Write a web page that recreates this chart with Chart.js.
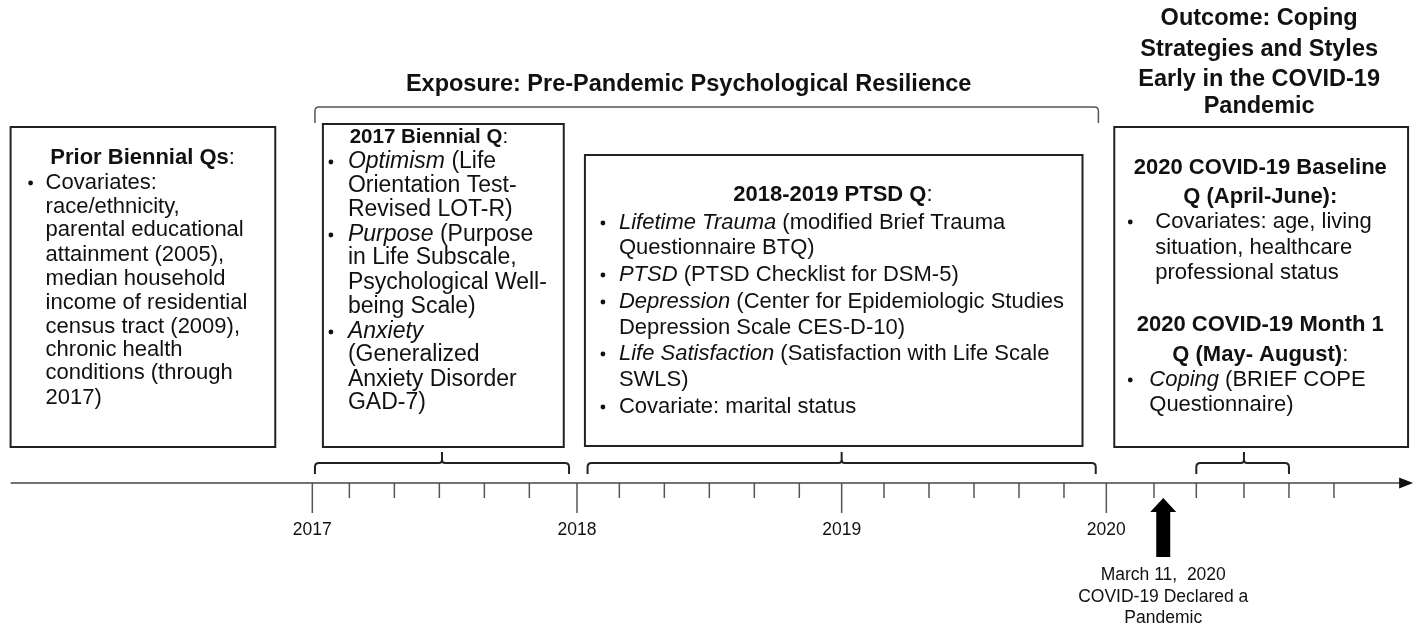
<!DOCTYPE html>
<html>
<head>
<meta charset="utf-8">
<script src="https://cdn.jsdelivr.net/npm/chart.js@4.4.0/dist/chart.umd.min.js"></script>
<style>
  html, body { margin: 0; padding: 0; background: #fff; }
  #wrap { width: 1416px; height: 626px; position: relative; }
</style>
</head>
<body>
<div id="wrap"><canvas id="timeline"></canvas></div>
<script>
// timeline values (decimal years)
const yearTicks = [2017, 2018, 2019, 2020];
const yearLabels = ['2017', '2018', '2019', '2020'];
const minorTicks = [
  2017.14, 2017.31, 2017.48, 2017.65, 2017.82,
  2018.16, 2018.33, 2018.50, 2018.67, 2018.84,
  2019.16, 2019.33, 2019.50, 2019.67, 2019.84,
  2020.18, 2020.34, 2020.52, 2020.69, 2020.86
];
const axisRange = [2015.86, 2021.11];
const pandemicDate = 2020.215;
const pandemicLabel = ['March 11,  2020', 'COVID-19 Declared a', 'Pandemic'];

// brackets under the boxes
const bracketStart = [2017.01, 2018.04, 2020.34];
const bracketMid = [2017.49, 2019.0, 2020.52];
const bracketEnd = [2017.97, 2019.96, 2020.69];
const exposureSpan = [2017.01, 2019.97];

// boxes (time span each one covers on the page)
const boxStart = [2015.86, 2017.04, 2018.03, 2020.03];
const boxEnd = [2016.86, 2017.95, 2019.91, 2021.14];

const exposureTitle = 'Exposure: Pre-Pandemic Psychological Resilience';
const outcomeTitle = ['Outcome: Coping', 'Strategies and Styles', 'Early in the COVID-19', 'Pandemic'];

// h = heading, b = bullet, c = continued line; segments are [text, style]
const box1Lines = [
  ['h', [['Prior Biennial Qs', 'b'], [':', 'r']]],
  ['b', [['Covariates:', 'r']]],
  ['c', [['race/ethnicity,', 'r']]],
  ['c', [['parental educational', 'r']]],
  ['c', [['attainment (2005),', 'r']]],
  ['c', [['median household', 'r']]],
  ['c', [['income of residential', 'r']]],
  ['c', [['census tract (2009),', 'r']]],
  ['c', [['chronic health', 'r']]],
  ['c', [['conditions (through', 'r']]],
  ['c', [['2017)', 'r']]]
];
const box2Lines = [
  ['h', [['2017 Biennial Q', 'b'], [':', 'r']]],
  ['b', [['Optimism', 'i'], [' (Life', 'r']]],
  ['c', [['Orientation Test-', 'r']]],
  ['c', [['Revised LOT-R)', 'r']]],
  ['b', [['Purpose', 'i'], [' (Purpose', 'r']]],
  ['c', [['in Life Subscale,', 'r']]],
  ['c', [['Psychological Well-', 'r']]],
  ['c', [['being Scale)', 'r']]],
  ['b', [['Anxiety', 'i']]],
  ['c', [['(Generalized', 'r']]],
  ['c', [['Anxiety Disorder', 'r']]],
  ['c', [['GAD-7)', 'r']]]
];
const box3Lines = [
  ['h', [['2018-2019 PTSD Q', 'b'], [':', 'r']]],
  ['b', [['Lifetime Trauma', 'i'], [' (modified Brief Trauma', 'r']]],
  ['c', [['Questionnaire BTQ)', 'r']]],
  ['b', [['PTSD', 'i'], [' (PTSD Checklist for DSM-5)', 'r']]],
  ['b', [['Depression', 'i'], [' (Center for Epidemiologic Studies', 'r']]],
  ['c', [['Depression Scale CES-D-10)', 'r']]],
  ['b', [['Life Satisfaction', 'i'], [' (Satisfaction with Life Scale', 'r']]],
  ['c', [['SWLS)', 'r']]],
  ['b', [['Covariate: marital status', 'r']]]
];
const box4Lines = [
  ['h', [['2020 COVID-19 Baseline', 'b']]],
  ['h', [['Q (April-June):', 'b']]],
  ['b', [['Covariates: age, living', 'r']]],
  ['c', [['situation, healthcare', 'r']]],
  ['c', [['professional status', 'r']]],
  ['h', [['2020 COVID-19 Month 1', 'b']]],
  ['h', [['Q (May- August)', 'b'], [':', 'r']]],
  ['b2', [['Coping', 'i'], [' (BRIEF COPE', 'r']]],
  ['c2', [['Questionnaire)', 'r']]]
];
const boxLines = [box1Lines, box2Lines, box3Lines, box4Lines];

// layout (pixels on the vertical scale, offsets from box left edge)
const L = {
  axisY: 483, minorLen: 15, majorLen: 30, yearLabelY: 530,
  bracketY: 463, bracketEndY: 474, bracketPeakY: 452,
  exposureY: 107, exposureEndY: 123, exposureTitleY: 85,
  outcomeTitleY: [19, 50, 80, 107],
  arrowTipY: 498, arrowHeadY: 512, arrowBottomY: 557,
  pandemicLabelY: [575, 597, 618],
  boxTop: [127, 124, 155, 127],
  boxBottom: [447, 447, 446, 447],
  boxText: [
    { head: 132, headSize: 22, size: 22, bullet: 20, text: 35, text2: 35, y: [158, 183, 207, 230, 255, 279, 303, 327, 350, 373, 398] },
    { head: 106, headSize: 20.5, size: 23, bullet: 8, text: 25, text2: 25, y: [137, 162, 186, 210, 235, 258, 283, 307, 332, 355, 380, 403] },
    { head: 248, headSize: 22, size: 22, bullet: 18, text: 34, text2: 34, y: [195, 223, 248, 275, 302, 328, 354, 380, 407] },
    { head: 146, headSize: 22, size: 22, bullet: 16, text: 41, text2: 35, y: [168, 197, 222, 248, 273, 325, 355, 380, 405] }
  ]
};

const FAMILY = '"Liberation Sans", Arial, Helvetica, sans-serif';
function fontFor(style, size) {
  return (style === 'i' ? 'italic ' : '') + (style === 'b' ? 'bold ' : '') + size + 'px ' + FAMILY;
}
function drawSegs(ctx, segs, x, y, size, center) {
  let total = 0;
  segs.forEach(([t, s]) => { ctx.font = fontFor(s, size); total += ctx.measureText(t).width; });
  let cx = center ? x - total / 2 : x;
  ctx.textAlign = 'left';
  segs.forEach(([t, s]) => {
    ctx.font = fontFor(s, size);
    ctx.fillText(t, cx, y);
    cx += ctx.measureText(t).width;
  });
}
function drawBracket(ctx, x1, x2, xm, yTop, yEnd, yPeak, r) {
  ctx.beginPath();
  ctx.moveTo(x1, yEnd);
  ctx.lineTo(x1, yTop + r);
  ctx.quadraticCurveTo(x1, yTop, x1 + r, yTop);
  if (xm !== null) {
    ctx.lineTo(xm - 3, yTop);
    ctx.quadraticCurveTo(xm, yTop, xm, yTop - 3);
    ctx.lineTo(xm, yPeak);
    ctx.moveTo(xm, yTop - 3);
    ctx.quadraticCurveTo(xm, yTop, xm + 3, yTop);
  }
  ctx.lineTo(x2 - r, yTop);
  ctx.quadraticCurveTo(x2, yTop, x2, yTop + r);
  ctx.lineTo(x2, yEnd);
  ctx.stroke();
}

const timelinePlugin = {
  id: 'timelinePlugin',
  afterDraw(chart) {
    const ctx = chart.ctx;
    const xs = chart.scales.x, ys = chart.scales.y;
    const px = v => xs.getPixelForValue(v);
    const py = v => ys.getPixelForValue(v);
    ctx.save();
    ctx.textBaseline = 'middle';
    ctx.fillStyle = '#111';
    ctx.lineCap = 'butt';

    // axis arrow head
    const tip = px(axisRange[1]) + 13;
    ctx.beginPath();
    ctx.moveTo(tip, py(L.axisY));
    ctx.lineTo(tip - 14, py(L.axisY) - 5.5);
    ctx.lineTo(tip - 14, py(L.axisY) + 5.5);
    ctx.closePath();
    ctx.fill();

    // year labels
    ctx.font = fontFor('r', 17.5);
    ctx.textAlign = 'center';
    yearTicks.forEach((v, i) => ctx.fillText(yearLabels[i], px(v), py(L.yearLabelY)));

    // brackets under boxes
    ctx.strokeStyle = '#222';
    ctx.lineWidth = 2;
    bracketStart.forEach((s, i) => {
      drawBracket(ctx, px(s), px(bracketEnd[i]), px(bracketMid[i]),
        py(L.bracketY), py(L.bracketEndY), py(L.bracketPeakY), 4);
    });

    // exposure bracket
    ctx.strokeStyle = '#555';
    ctx.lineWidth = 1.5;
    drawBracket(ctx, px(exposureSpan[0]), px(exposureSpan[1]), null,
      py(L.exposureY), py(L.exposureEndY), 0, 4);
    drawSegs(ctx, [[exposureTitle, 'b']],
      (px(exposureSpan[0]) + px(exposureSpan[1])) / 2 - 18, py(L.exposureTitleY), 23.5, true);

    // outcome title
    const oc = (px(boxStart[3]) + px(boxEnd[3])) / 2;
    outcomeTitle.forEach((t, i) => drawSegs(ctx, [[t, 'b']], oc - 2, py(L.outcomeTitleY[i]), 23.5, true));

    // boxes
    boxStart.forEach((s, i) => {
      const x1 = px(s), x2 = px(boxEnd[i]);
      const y1 = py(L.boxTop[i]), y2 = py(L.boxBottom[i]);
      ctx.strokeStyle = '#222';
      ctx.lineWidth = 2;
      ctx.strokeRect(x1, y1, x2 - x1, y2 - y1);
      const lay = L.boxText[i];
      boxLines[i].forEach(([kind, segs], j) => {
        const y = py(lay.y[j]);
        if (kind === 'h') {
          drawSegs(ctx, segs, x1 + lay.head, y, lay.headSize, true);
        } else {
          const tx = (kind === 'b2' || kind === 'c2') ? lay.text2 : lay.text;
          if (kind === 'b' || kind === 'b2') {
            ctx.beginPath();
            ctx.arc(x1 + lay.bullet, y, 2.4, 0, Math.PI * 2);
            ctx.fill();
          }
          drawSegs(ctx, segs, x1 + tx, y, lay.size, false);
        }
      });
    });

    // pandemic arrow
    const ax = px(pandemicDate);
    ctx.fillStyle = '#000';
    ctx.beginPath();
    ctx.moveTo(ax, py(L.arrowTipY));
    ctx.lineTo(ax + 13, py(L.arrowHeadY));
    ctx.lineTo(ax + 7, py(L.arrowHeadY));
    ctx.lineTo(ax + 7, py(L.arrowBottomY));
    ctx.lineTo(ax - 7, py(L.arrowBottomY));
    ctx.lineTo(ax - 7, py(L.arrowHeadY));
    ctx.lineTo(ax - 13, py(L.arrowHeadY));
    ctx.closePath();
    ctx.fill();
    ctx.fillStyle = '#111';
    ctx.font = fontFor('r', 17.5);
    ctx.textAlign = 'center';
    pandemicLabel.forEach((t, i) => ctx.fillText(t, ax, py(L.pandemicLabelY[i])));

    ctx.restore();
  }
};

const ctx = document.getElementById('timeline').getContext('2d');
new Chart(ctx, {
  type: 'scatter',
  data: {
    datasets: [
      {
        // main time axis line
        data: [{ x: axisRange[0], y: L.axisY }, { x: axisRange[1], y: L.axisY }],
        showLine: true,
        borderColor: '#444',
        borderWidth: 1.5,
        pointRadius: 0
      },
      {
        // two-month ticks
        data: minorTicks.map(v => ({ x: v, y: L.axisY + L.minorLen / 2 })),
        pointStyle: 'line',
        rotation: 90,
        radius: L.minorLen / 2,
        borderColor: '#555',
        borderWidth: 1.5
      },
      {
        // year ticks
        data: yearTicks.map(v => ({ x: v, y: L.axisY + L.majorLen / 2 })),
        pointStyle: 'line',
        rotation: 90,
        radius: L.majorLen / 2,
        borderColor: '#555',
        borderWidth: 1.5
      }
    ]
  },
  options: {
    responsive: true,
    maintainAspectRatio: false,
    animation: false,
    events: [],
    layout: { padding: 0, autoPadding: false },
    scales: {
      x: { type: 'linear', min: 2015.82, max: 2021.17, display: false },
      y: { type: 'linear', min: 0, max: 626, reverse: true, display: false }
    },
    plugins: {
      legend: { display: false },
      tooltip: { enabled: false }
    }
  },
  plugins: [timelinePlugin]
});
</script>
</body>
</html>
